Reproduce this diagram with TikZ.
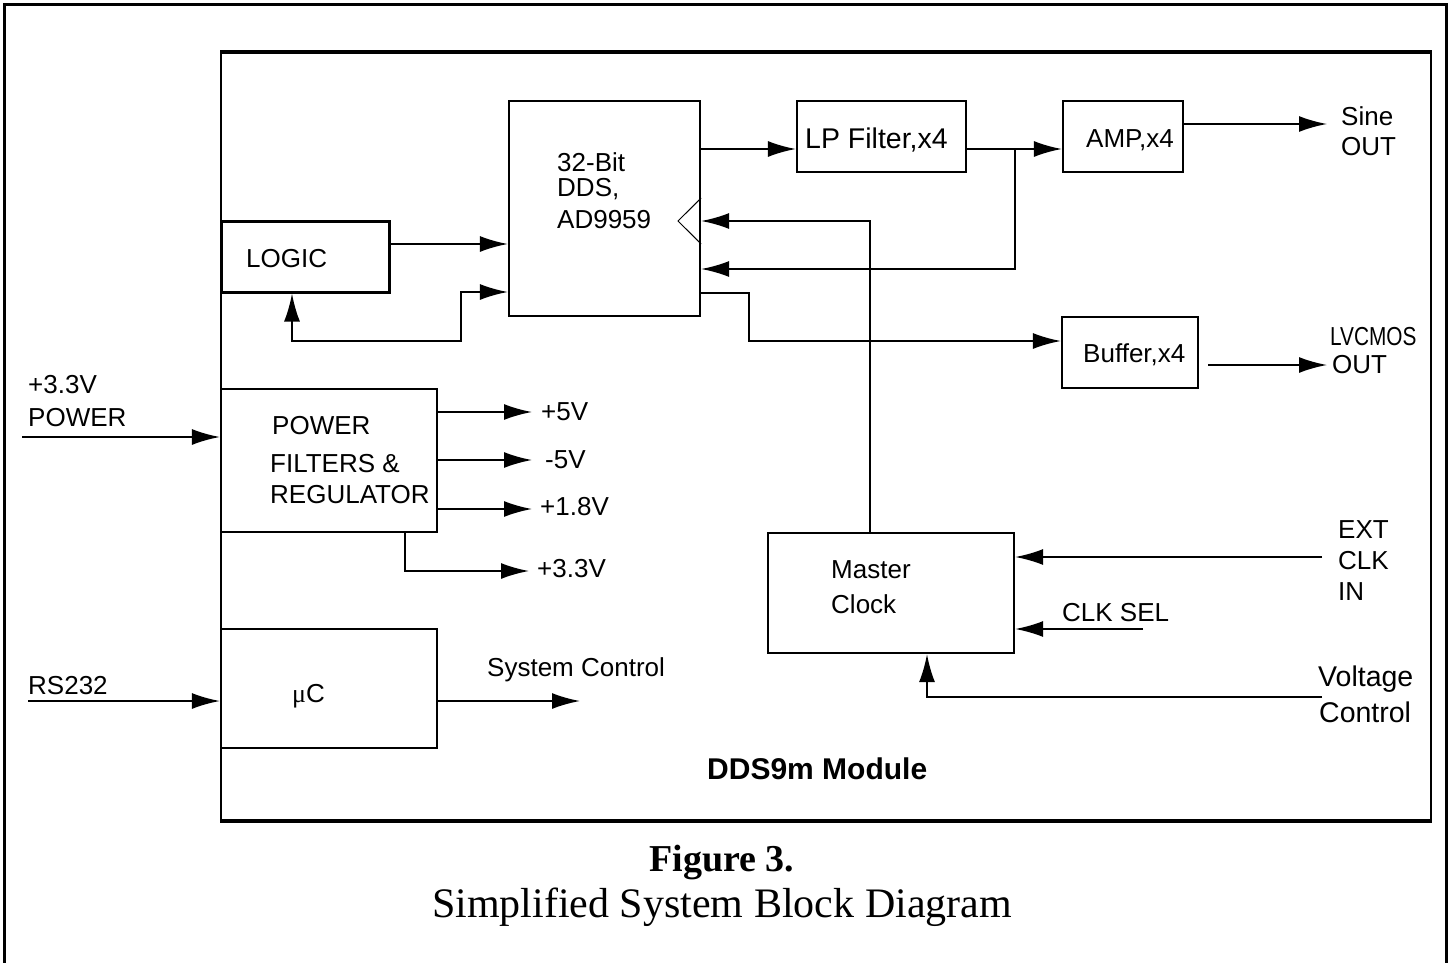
\documentclass[tikz,border=0pt]{standalone}
\usepackage{fontspec}
\setmainfont{Liberation Serif}
\newfontfamily\arialf{Liberation Sans}
\usetikzlibrary{arrows.meta,calc}
\tikzset{
  box/.style={draw, line width=2.2pt, inner sep=0pt},
  lbl/.style={font=\arialf\fontsize{26}{26}\selectfont, inner sep=0pt, anchor=base west},
  biglbl/.style={lbl, font=\arialf\fontsize{28.5}{28.5}\selectfont},
  conn/.style={line width=2pt},
  arr/.style={line width=2pt, -{Latex[length=28pt,width=16pt]}},
  arrtwo/.style={line width=2pt, {Latex[length=28pt,width=16pt]}-{Latex[length=28pt,width=16pt]}},
}
\begin{document}
\begin{tikzpicture}[x=1pt,y=-1pt]
\useasboundingbox (0,0) rectangle (1450,963);
% outer frame (open at bottom)
\draw[line width=3pt] (4,963) -- (4,5) -- (1446,5) -- (1446,963);
% module frame
\coordinate (mtl) at (221,52);
\coordinate (mtr) at (1431,52);
\coordinate (mbl) at (221,821);
\coordinate (mbr) at (1431,821);
\draw[line width=4.5pt] ($(mtl)+(-1,0)$) -- ($(mtr)+(1,0)$);
\draw[line width=4.5pt] ($(mbl)+(-1,0)$) -- ($(mbr)+(1,0)$);
\draw[line width=2.6pt] (mtl) -- (mbl);
\draw[line width=2.6pt] (mtr) -- (mbr);

% blocks
\node[box, minimum width=191, minimum height=215] (dds) at (604.5,208.5) {};
\node[box, minimum width=169, minimum height=71] (lpf) at (881.5,136.5) {};
\node[box, minimum width=120, minimum height=71] (amp) at (1123,136.5) {};
\node[box, line width=3pt, minimum width=168, minimum height=71] (logic) at (305,256.5) {};
\node[box, minimum width=136, minimum height=71] (buf) at (1130,352.5) {};
\node[box, minimum width=216, minimum height=143] (pwr) at (329,460.5) {};
\node[box, minimum width=216, minimum height=119] (uc) at (329,688.5) {};
\node[box, minimum width=246, minimum height=120] (mclk) at (891,593) {};

% clock triangle on DDS
\draw[line width=1pt] (dds.east |- 0,198) -- (678,221) -- (dds.east |- 0,244);

% block texts
\node[lbl] (t32) at (557,171) {32-Bit};
\node[lbl] (tdds) at (557,196) {DDS,};
\node[lbl] (tad) at (557,228) {AD9959};
\node[lbl] (tlogic) at (246,267) {LOGIC};
\node[biglbl] (tlpf) at (805,148) {LP Filter,x4};
\node[lbl] (tamp) at (1086,147) {AMP,x4};
\node[lbl] (tbuf) at (1083,362) {Buffer,x4};
\node[lbl] (tpw1) at (272,434) {POWER};
\node[lbl] (tpw2) at (270,472) {FILTERS \&};
\node[lbl] (tpw3) at (270,503) {REGULATOR};
\node[lbl] (tuc) at (292,702) {{\rmfamily μ}C};
\node[lbl] (tm1) at (831,578) {Master};
\node[lbl] (tm2) at (831,613) {Clock};

% outside labels
\node[lbl] (tsine) at (1341,125) {Sine};
\node[lbl] (tsout) at (1341,155) {OUT};
\node[lbl] (tlv) at (1330,345) {\scalebox{0.8}[1]{LVCMOS}};
\node[lbl] (tlvout) at (1332,373) {OUT};
\node[lbl] (tp33) at (28,393) {+3.3V};
\node[lbl] (tpow) at (28,426) {POWER};
\node[lbl] (t5) at (541,420) {+5V};
\node[lbl] (tm5) at (545,468) {-5V};
\node[lbl] (t18) at (540,515) {+1.8V};
\node[lbl] (t33) at (537,577) {+3.3V};
\node[lbl] (trs) at (28,694) {RS232};
\node[lbl] (tsys) at (487,676) {System Control};
\node[lbl] (text) at (1338,538) {EXT};
\node[lbl] (tclk) at (1338,569) {CLK};
\node[lbl] (tin) at (1338,600) {IN};
\node[lbl] (tsel) at (1062,621) {CLK SEL};
\node[biglbl] (tvol) at (1318,686) {Voltage};
\node[biglbl] (tctl) at (1319,722) {Control};
\node[font=\arialf\bfseries\fontsize{30}{30}\selectfont, inner sep=0pt, anchor=base west] (tmod) at (707,779) {DDS9m Module};

% caption
\node[font=\bfseries\fontsize{38}{38}\selectfont, inner sep=0pt, anchor=base] (cap1) at (722,871) {Figure 3.};
\node[font=\fontsize{42}{42}\selectfont, inner sep=0pt, anchor=base] (cap2) at (722,917) {Simplified System Block Diagram};

% free ends
\coordinate (brk) at (1015,149);
\coordinate (sineend) at (1327,124);
\coordinate (lvstart) at (1208,365);
\coordinate (lvend) at (1327,365);
\coordinate (extstart) at (1322,557);
\coordinate (selstart) at (1143,629);
\coordinate (volstart) at (1322,697);
\coordinate (pwrin) at (22,437);
\coordinate (rsin) at (28,701);
\coordinate (sysend) at (580,701);
\coordinate (v5) at (532,412);
\coordinate (vm5) at (532,460);
\coordinate (v18) at (532,509);
\coordinate (v33) at (529,571);

% connectors
\draw[arr] (logic.east |- 0,244) -- (dds.west |- 0,244);
\draw[arrtwo] (logic.south -| 292,0) -- (292,341) -- (461,341) -- (461,292) -- (dds.west |- 0,292);
\draw[arr] (dds.east |- 0,149) -- (lpf.west |- 0,149);
\draw[arr] (lpf.east |- 0,149) -- (amp.west |- 0,149);
\draw[arr] (brk) -- (brk |- 0,269) -- (dds.east |- 0,269);
\draw[arr] (amp.east |- sineend) -- (sineend);
\draw[arr] (dds.east |- 0,293) -- (749,293) -- (749,341) -- (buf.west |- 0,341);
\draw[arr] (lvstart) -- (lvend);
\draw[arr] (mclk.north -| 870,0) -- (870,221) -- (dds.east |- 0,221);
\draw[arr] (extstart) -- (mclk.east |- extstart);
\draw[arr] (selstart) -- (mclk.east |- selstart);
\draw[arr] (volstart) -- (927,697) -- (mclk.south -| 927,0);
\draw[arr] (pwrin) -- (pwr.west |- pwrin);
\draw[arr] (pwr.east |- v5) -- (v5);
\draw[arr] (pwr.east |- vm5) -- (vm5);
\draw[arr] (pwr.east |- v18) -- (v18);
\draw[arr] (pwr.south -| 405,0) -- (405,571) -- (v33);
\draw[arr] (rsin) -- (uc.west |- rsin);
\draw[arr] (uc.east |- sysend) -- (sysend);
\end{tikzpicture}
\end{document}
